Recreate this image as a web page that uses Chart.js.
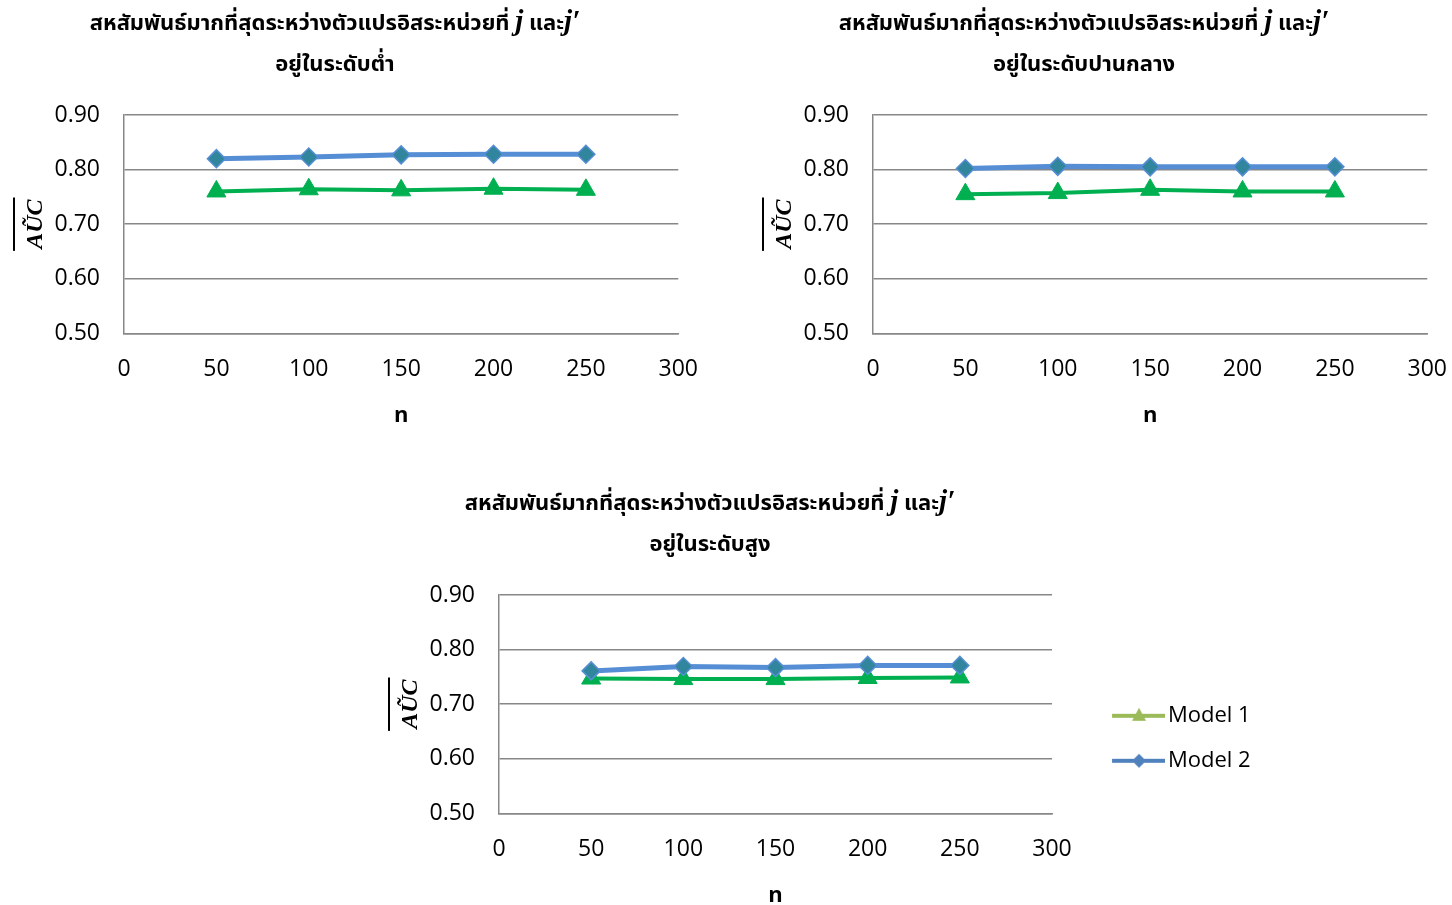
<!DOCTYPE html>
<html>
<head>
<meta charset="utf-8">
<script src="https://cdn.jsdelivr.net/npm/chart.js@4.4.1/dist/chart.umd.min.js"></script>
<style>
  html, body { margin: 0; padding: 0; background: #fff; overflow: hidden; width: 1452px; height: 905px; }
  .panel { position: absolute; }
</style>
</head>
<body>
<div class="panel" style="left:0px;top:0px;width:720px;height:440px"><canvas id="chartLow"></canvas></div>
<div class="panel" style="left:749px;top:0px;width:720px;height:440px"><canvas id="chartMid"></canvas></div>
<div class="panel" style="left:375px;top:480px;width:1077px;height:440px"><canvas id="chartHigh"></canvas></div>
<script>
// ---- data ----
const nValues = [50, 100, 150, 200, 250];
const xTicks = [0, 50, 100, 150, 200, 250, 300];
const yTicks = [0.5, 0.6, 0.7, 0.8, 0.9];

const lowModel1  = [0.760, 0.764, 0.762, 0.765, 0.763];
const lowModel2  = [0.820, 0.823, 0.827, 0.828, 0.828];
const midModel1  = [0.755, 0.757, 0.763, 0.760, 0.760];
const midModel2  = [0.802, 0.806, 0.805, 0.805, 0.805];
const highModel1 = [0.747, 0.746, 0.746, 0.748, 0.749];
const highModel2 = [0.761, 0.769, 0.767, 0.771, 0.771];

const seriesNames = ['Model 1', 'Model 2'];
const titleMain = 'สหสัมพันธ์มากที่สุดระหว่างตัวแปรอิสระหน่วยที่';
const titleAnd = 'และ';
const levelLow = 'อยู่ในระดับต่ำ';
const levelMid = 'อยู่ในระดับปานกลาง';
const levelHigh = 'อยู่ในระดับสูง';
const xTitle = 'n';
const yTitle = 'AŨC';

// ---- styles ----
const TICK_FAMILY = "'Open Sans', 'Noto Sans', sans-serif";
const THAI_FAMILY = "'Noto Sans Thai', 'Leelawadee UI', Tahoma, Loma, Garuda, Norasi, sans-serif";
const GRID = '#878787';
const GREEN = '#00B050';
const BLUE_LINE = '#558ED5';
const BLUE_FILL = '#31859C';
const LEGEND_GREEN = '#9BBB59';
const LEGEND_BLUE = '#4F81BD';

const toPoints = (vals) => vals.map((v, i) => ({ x: nValues[i], y: v }));

// Two-line heading with the italic j / j′ symbols
const headingPlugin = {
  id: 'heading',
  afterDraw(chart, args, opts) {
    if (!opts || !opts.level) return;
    const ctx = chart.ctx;
    const thai = 'bold 22px ' + THAI_FAMILY;
    const sym = 'bold italic 29px "Liberation Serif", "DejaVu Serif", serif';
    const segs = [
      { t: titleMain + ' ', f: thai },
      { t: 'j', f: sym },
      { t: ' ' + titleAnd, f: thai },
      { t: 'j\u2032', f: sym }
    ];
    ctx.save();
    ctx.fillStyle = '#000';
    ctx.textBaseline = 'alphabetic';
    ctx.textAlign = 'left';
    let total = 0;
    segs.forEach(s => { ctx.font = s.f; s.w = ctx.measureText(s.t).width; total += s.w; });
    let x = opts.cx - total / 2;
    segs.forEach(s => { ctx.font = s.f; ctx.fillText(s.t, x, opts.y1); x += s.w; });
    ctx.font = thai;
    ctx.textAlign = 'center';
    ctx.fillText(opts.level, opts.cx, opts.y2);
    ctx.restore();
  }
};

// Rotated y-axis caption with an overbar
const yCaptionPlugin = {
  id: 'yCaption',
  afterDraw(chart, args, opts) {
    if (!opts || opts.x == null) return;
    const ctx = chart.ctx;
    const area = chart.chartArea;
    const cy = (area.top + area.bottom) / 2;
    ctx.save();
    ctx.translate(opts.x, cy);
    ctx.rotate(-Math.PI / 2);
    ctx.font = 'bold italic 24px "Liberation Serif", "DejaVu Serif", serif';
    ctx.fillStyle = '#000';
    ctx.textAlign = 'center';
    ctx.textBaseline = 'alphabetic';
    ctx.fillText(yTitle, 0, 0);
    const w = ctx.measureText(yTitle).width;
    ctx.fillRect(-w / 2 - 2, -29, w + 4, 2);
    ctx.restore();
  }
};

// legend glyph: short line with a marker on it
function legendGlyph(color, style) {
  const c = document.createElement('canvas');
  c.width = 98; c.height = 24;
  const g = c.getContext('2d');
  g.strokeStyle = color;
  g.fillStyle = color;
  g.lineWidth = 4;
  g.beginPath(); g.moveTo(45, 12); g.lineTo(98, 12); g.stroke();
  const cx = 72, cy = 12;
  g.beginPath();
  if (style === 'triangle') {
    g.moveTo(cx, cy - 8); g.lineTo(cx + 7, cy + 5); g.lineTo(cx - 7, cy + 5);
  } else {
    g.moveTo(cx, cy - 7); g.lineTo(cx + 7, cy); g.lineTo(cx, cy + 7); g.lineTo(cx - 7, cy);
  }
  g.closePath(); g.fill();
  return c;
}

function makeChart(id, m1, m2, level, rightPad, withLegend) {
  const datasets = [
    {
      label: seriesNames[0], data: toPoints(m1), order: 2,
      borderColor: GREEN, backgroundColor: GREEN, borderWidth: 4,
      pointStyle: 'triangle', pointRadius: 11, pointBorderWidth: 1,
      pointBackgroundColor: GREEN, pointBorderColor: GREEN, tension: 0
    },
    {
      label: seriesNames[1], data: toPoints(m2), order: 1,
      borderColor: BLUE_LINE, backgroundColor: BLUE_FILL, borderWidth: 5,
      pointStyle: 'rectRot', pointRadius: 9, pointBorderWidth: 1.5,
      pointBackgroundColor: BLUE_FILL, pointBorderColor: BLUE_LINE, tension: 0
    }
  ];
  const tickFont = { family: TICK_FAMILY, size: 23 };
  return new Chart(document.getElementById(id), {
    type: 'line',
    data: { datasets },
    options: {
      responsive: true,
      maintainAspectRatio: false,
      animation: false,
      devicePixelRatio: 1,
      layout: { padding: { left: 50, top: 115, right: rightPad, bottom: 13 } },
      scales: {
        x: {
          type: 'linear',
          min: xTicks[0], max: xTicks[xTicks.length - 1],
          ticks: { stepSize: xTicks[1] - xTicks[0], font: tickFont, color: '#000', padding: 22, maxRotation: 0 },
          grid: { display: false, drawTicks: false },
          border: { display: true, color: GRID, width: 1.5 },
          title: { display: true, text: xTitle, color: '#000', font: { family: TICK_FAMILY, size: 22, weight: 'bold', lineHeight: 1 }, padding: { top: 0, bottom: 0 } }
        },
        y: {
          min: yTicks[0], max: yTicks[yTicks.length - 1],
          ticks: { stepSize: 0.1, font: tickFont, color: '#000', padding: 24, callback: v => v.toFixed(2) },
          grid: { color: GRID, lineWidth: 1.5, drawTicks: false },
          border: { display: true, color: GRID, width: 1.5 },
          afterFit(scale) { scale.width = 74; }
        }
      },
      plugins: {
        tooltip: { enabled: false },
        heading: { cx: 335, y1: 30, y2: 71, level },
        yCaption: { x: 42 },
        legend: withLegend ? {
          display: true,
          position: 'right',
          align: 'start',
          title: { display: true, text: '', padding: { top: 0, bottom: 72.4 } },
          labels: {
            usePointStyle: true,
            pointStyleWidth: 82,
            boxHeight: 22,
            padding: 23,
            color: '#000',
            font: { family: TICK_FAMILY, size: 22 },
            generateLabels() {
              return [
                { text: seriesNames[0], pointStyle: legendGlyph(LEGEND_GREEN, 'triangle'), fillStyle: LEGEND_GREEN, strokeStyle: LEGEND_GREEN, lineWidth: 0, hidden: false, datasetIndex: 0, fontColor: '#000' },
                { text: seriesNames[1], pointStyle: legendGlyph(LEGEND_BLUE, 'diamond'), fillStyle: LEGEND_BLUE, strokeStyle: LEGEND_BLUE, lineWidth: 0, hidden: false, datasetIndex: 1, fontColor: '#000' }
              ];
            }
          }
        } : { display: false }
      }
    },
    plugins: [headingPlugin, yCaptionPlugin]
  });
}

makeChart('chartLow', lowModel1, lowModel2, levelLow, 25, false);
makeChart('chartMid', midModel1, midModel2, levelMid, 25, false);
makeChart('chartHigh', highModel1, highModel2, levelHigh, 191.3, true);
</script>
</body>
</html>
